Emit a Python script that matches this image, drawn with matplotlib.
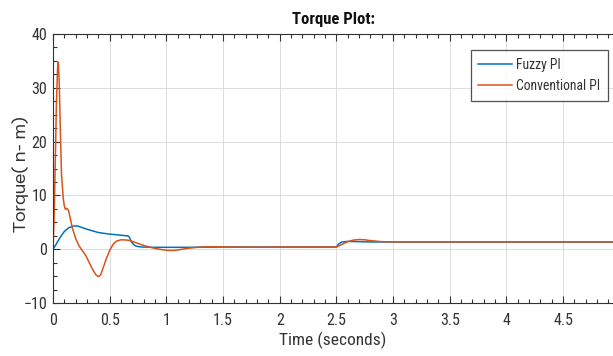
import matplotlib
matplotlib.use("Agg")
import matplotlib.pyplot as plt
from matplotlib.ticker import MultipleLocator

t_conv = [0, 0.01, 0.02, 0.03, 0.04, 0.047, 0.055, 0.065, 0.075, 0.09, 0.1, 0.11, 0.12, 0.135, 0.15,
          0.17, 0.2, 0.23, 0.26, 0.29, 0.32, 0.35, 0.38, 0.40, 0.42, 0.44, 0.47, 0.5, 0.53, 0.56,
          0.6, 0.65, 0.68, 0.72, 0.76, 0.8, 0.85, 0.9, 0.95, 1.0, 1.05, 1.1, 1.2, 1.3, 1.4, 1.6,
          1.8, 2.0, 2.2, 2.5, 2.55, 2.6, 2.65, 2.7, 2.75, 2.8, 2.9, 3.0, 3.3, 4.0, 5.0]
v_conv = [0, 6, 16, 27, 33.5, 34.8, 31, 22, 14, 9.5, 8.0, 7.4, 7.6, 7.3, 6.0,
          4.0, 2.0, 0.6, -0.3, -1.2, -2.5, -3.8, -4.8, -5.1, -4.8, -3.6, -1.8, -0.2, 0.9, 1.5,
          1.75, 1.7, 1.6, 1.3, 1.0, 0.7, 0.4, 0.15, -0.05, -0.2, -0.25, -0.15, 0.2, 0.4, 0.45, 0.4,
          0.38, 0.4, 0.42, 0.42, 0.9, 1.4, 1.7, 1.8, 1.75, 1.6, 1.4, 1.35, 1.35, 1.35, 1.35]

t_fuzzy = [0, 0.03, 0.06, 0.1, 0.14, 0.18, 0.22, 0.26, 0.3, 0.35, 0.4, 0.5, 0.6, 0.665, 0.675,
           0.69, 0.71, 0.73, 0.76, 0.8, 0.9, 1.0, 1.2, 1.5, 2.0, 2.5, 2.52, 2.55, 2.6, 2.7,
           2.8, 3.0, 5.0]
v_fuzzy = [0, 1.0, 2.1, 3.3, 4.0, 4.3, 4.3, 4.0, 3.7, 3.4, 3.1, 2.8, 2.6, 2.45, 2.2,
           1.4, 0.9, 0.6, 0.45, 0.4, 0.35, 0.35, 0.35, 0.4, 0.4, 0.4, 1.0, 1.35, 1.45, 1.4,
           1.35, 1.35, 1.35]

x_ticks = [0, 0.5, 1, 1.5, 2, 2.5, 3, 3.5, 4, 4.5]
x_ticklabels = ['0', '0.5', '1', '1.5', '2', '2.5', '3', '3.5', '4', '4.5']
series_labels = ["Fuzzy PI", "Conventional PI"]
title = "Torque Plot:"
xlabel = "Time (seconds)"
ylabel = "Torque( n- m)"

plt.rcParams['font.family'] = ['Roboto Condensed', 'DejaVu Sans']
TXT = '#333333'

fig = plt.figure(figsize=(6.13, 3.56), dpi=100)
ax = fig.add_axes([53/613, 53/356, 1 - 53/613, (303-34)/356])

ax.plot(t_fuzzy, v_fuzzy, color='#0072BD', lw=1.1, label=series_labels[0])
ax.plot(t_conv, v_conv, color='#D95319', lw=1.1, label=series_labels[1])

ax.set_xlim(0, 4.94)
ax.set_ylim(-10, 40)
ax.set_xticks(x_ticks)
ax.set_xticklabels(x_ticklabels)
ax.xaxis.set_minor_locator(MultipleLocator(0.1))
ax.yaxis.set_major_locator(MultipleLocator(10))
ax.yaxis.set_minor_locator(MultipleLocator(2.5))
ax.tick_params(which='both', direction='in', top=True, right=False, colors=TXT,
               labelsize=11.5)
ax.tick_params(which='major', length=5, width=0.8)
ax.tick_params(which='minor', length=3, width=0.8)
ax.tick_params(axis='x', pad=7)
ax.tick_params(axis='y', pad=4)
ax.grid(True, which='major', color='#dcdcdc', lw=0.7)
for s in ['left', 'top', 'bottom']:
    ax.spines[s].set_color(TXT)
ax.spines['right'].set_visible(False)

ax.set_title(title, fontsize=12, fontweight='bold', pad=7, color='#111111')
ax.set_xlabel(xlabel, fontsize=12.5, labelpad=3, color=TXT)
ax.set_ylabel(ylabel, fontsize=11.8, family=['Zalando Sans SemiExpanded', 'DejaVu Sans'],
              color=TXT, va='center')
ax.yaxis.set_label_coords((20.5 - 53) / 560, 0.48)

leg = ax.legend(loc='upper right', bbox_to_anchor=(0.991, 0.94), fontsize=9.8, frameon=True,
                fancybox=False, edgecolor='#262626', handlelength=2.5, handletextpad=0.3,
                borderpad=0.55, labelspacing=0.55, borderaxespad=0)
leg.get_frame().set_linewidth(0.9)
for txt in leg.get_texts():
    txt.set_color(TXT)

fig.savefig('out.png', dpi=100)
